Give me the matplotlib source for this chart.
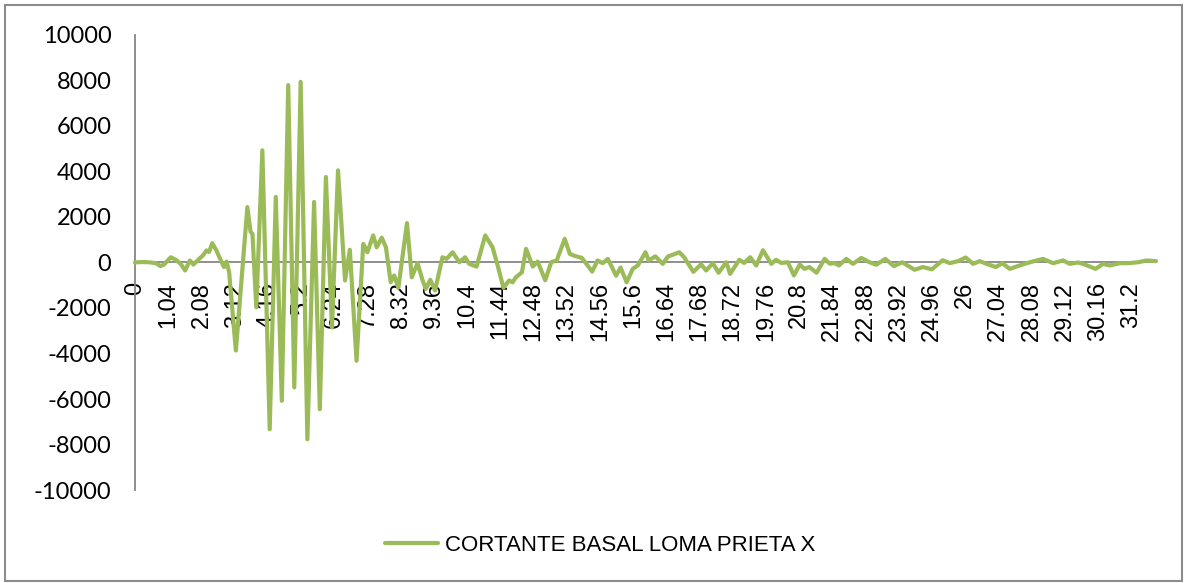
import matplotlib.pyplot as plt
from matplotlib.patches import Rectangle

plt.rcParams['axes.unicode_minus'] = False

# tiempo (s) y cortante basal (puntos de giro del registro)
tiempo = [
    0.00, 0.20, 0.44, 0.65, 0.80, 0.91, 1.12, 1.28, 1.43, 1.57, 1.72, 1.83,
    2.01, 2.13, 2.24, 2.32, 2.42, 2.55, 2.69, 2.79, 2.87, 2.95, 3.16, 3.52,
    3.62, 3.68, 3.80, 3.99, 4.22, 4.41, 4.60, 4.80, 4.99, 5.19, 5.40, 5.61,
    5.79, 5.98, 6.17, 6.36, 6.58, 6.73, 6.94, 7.15, 7.28, 7.46, 7.57, 7.73,
    7.86, 8.01, 8.12, 8.25, 8.52, 8.67, 8.85, 9.01, 9.11, 9.25, 9.40, 9.63,
    9.76, 9.95, 10.16, 10.34, 10.47, 10.70, 10.97, 11.20, 11.36, 11.54, 11.72, 11.83,
    11.93, 12.12, 12.25, 12.46, 12.61, 12.85, 13.04, 13.21, 13.46, 13.62, 13.75, 14.00,
    14.32, 14.49, 14.65, 14.81, 15.07, 15.21, 15.40, 15.59, 15.75, 15.99, 16.09, 16.30,
    16.53, 16.69, 17.05, 17.20, 17.49, 17.73, 17.89, 18.10, 18.28, 18.52, 18.64, 18.93,
    19.08, 19.27, 19.46, 19.67, 19.93, 20.08, 20.24, 20.45, 20.64, 20.82, 20.97, 21.12,
    21.35, 21.60, 21.76, 21.92, 22.05, 22.28, 22.49, 22.75, 23.01, 23.22, 23.50, 23.77,
    24.03, 24.42, 24.68, 24.96, 25.30, 25.52, 25.78, 26.02, 26.25, 26.46, 26.67, 26.96,
    27.17, 27.40, 27.71, 28.03, 28.44, 28.76, 29.07, 29.28, 29.54, 29.75, 30.09, 30.32,
    30.53, 30.85, 31.11, 31.42, 31.68, 31.98,
]
cortante = [
    0, 20, 10, -30, -160, -90, 230, 120, -60, -350, 90, -90,
    160, 310, 530, 460, 850, 530, 90, -200, 40, -430, -3870, 2435,
    1350, 1260, -1970, 4930, -7330, 2880, -6080, 7800, -5490, 7940, -7770, 2660,
    -6450, 3760, -2850, 4050, -790, 560, -4320, 820, 450, 1190, 670, 1090,
    670, -870, -570, -1110, 1730, -650, -30, -790, -1160, -760, -1230, 230,
    160, 450, 10, 230, -60, -180, 1190, 670, -130, -1110, -790, -870,
    -650, -430, 600, -180, 40, -780, 20, 90, 1040, 380, 300, 200,
    -400, 90, -30, 160, -580, -220, -870, -280, -130, 450, 90, 270,
    -60, 260, 450, 230, -410, -80, -350, -30, -450, 10, -500, 120,
    -20, 230, -130, 540, -60, 120, -20, 10, -570, -90, -280, -200,
    -450, 160, -50, -30, -130, 160, -60, 200, 10, -100, 160, -160,
    10, -320, -200, -300, 100, -30, 60, 220, -60, 60, -60, -200,
    -30, -280, -130, 10, 160, -30, 90, -60, 0, -90, -280, -60,
    -130, -30, -30, 10, 90, 60,
]

ticks_x = [round(k * 1.04, 2) for k in range(31)]
etiquetas_x = ['%g' % v for v in ticks_x]
ticks_y = list(range(-10000, 10001, 2000))

verde = '#9BBB59'
gris = '#868686'

fig = plt.figure(figsize=(11.86, 5.83), dpi=100)
ax = fig.add_axes([0.1138, 0.1595, 0.8609, 0.7805])

# la serie va por encima de ejes y etiquetas
ax.plot(tiempo, cortante, color=verde, lw=3.0, solid_joinstyle='round',
        solid_capstyle='round', zorder=5, clip_on=False,
        label='CORTANTE BASAL LOMA PRIETA X')

ax.set_xlim(0, 31.98)
ax.set_ylim(-10000, 10000)

# eje x cruzando en cero
ax.spines['bottom'].set_position(('data', 0))
for s in ['top', 'right']:
    ax.spines[s].set_visible(False)
for s in ['left', 'bottom']:
    ax.spines[s].set_color(gris)
    ax.spines[s].set_linewidth(1.3)

ax.set_xticks(ticks_x)
ax.set_xticklabels(etiquetas_x, rotation=90, fontsize=17, family='Liberation Sans')
ax.tick_params(axis='x', length=0, pad=14)

ax.set_yticks(ticks_y)
ax.set_yticklabels([str(v) for v in ticks_y], fontsize=17, family='Lato')
ax.tick_params(axis='y', length=0, pad=17)

fig.legend(loc='center', bbox_to_anchor=(0.506, 0.064), frameon=False,
           handlelength=2.4, handletextpad=0.3,
           prop={'family': 'Liberation Sans', 'size': 16})

# marco del gráfico
fig.patches.append(Rectangle((5 / 1186, 2 / 583), 1177 / 1186, 576 / 583,
                             transform=fig.transFigure, fill=False,
                             edgecolor='#8c8c8c', lw=1.5))

fig.savefig('out.png', dpi=100)
